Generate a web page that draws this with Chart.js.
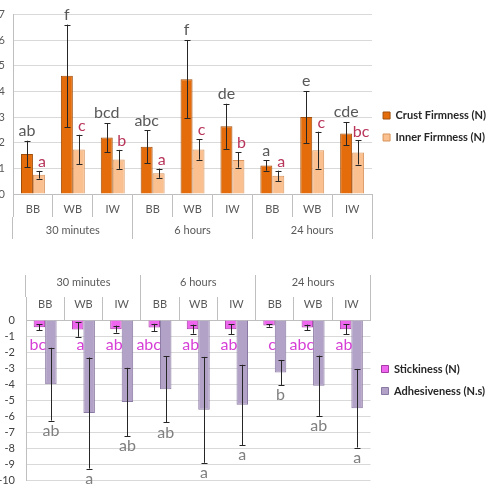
<!DOCTYPE html>
<html>
<head>
<meta charset="utf-8">
<script src="https://cdn.jsdelivr.net/npm/chart.js@4/dist/chart.umd.min.js"></script>
<style>
  html, body { margin: 0; padding: 0; background: #ffffff; overflow: hidden; }
  body { width: 492px; height: 498px; position: relative; }
  #top { position: absolute; left: -20px; top: 0; }
  #bottom { position: absolute; left: 0; top: 250px; }
</style>
</head>
<body>
<canvas id="top" width="512" height="245"></canvas>
<canvas id="bottom" width="492" height="248"></canvas>
<script>
// ---- Data ----
const categories = ['BB', 'WB', 'IW', 'BB', 'WB', 'IW', 'BB', 'WB', 'IW'];
const groups = ['30 minutes', '6 hours', '24 hours'];

const crustFirmness = [1.56, 4.61, 2.20, 1.84, 4.48, 2.64, 1.11, 3.00, 2.36];
const crustErr      = [0.52, 2.00, 0.56, 0.64, 1.53, 0.88, 0.20, 1.02, 0.45];
const crustLetters  = ['ab', 'f', 'bcd', 'abc', 'f', 'de', 'a', 'e', 'cde'];

const innerFirmness = [0.75, 1.74, 1.35, 0.81, 1.74, 1.33, 0.71, 1.71, 1.62];
const innerErr      = [0.15, 0.57, 0.37, 0.18, 0.40, 0.30, 0.20, 0.72, 0.47];
const innerLetters  = ['a', 'c', 'b', 'a', 'c', 'b', 'a', 'c', 'bc'];

const stickiness    = [-0.45, -0.60, -0.57, -0.46, -0.57, -0.57, -0.34, -0.46, -0.57];
const stickErr      = [0.20, 0.45, 0.22, 0.22, 0.28, 0.30, 0.08, 0.17, 0.31];
const stickLetters  = ['bc', 'a', 'ab', 'abc', 'ab', 'ab', 'c', 'abc', 'ab'];

const adhesiveness  = [-4.00, -5.80, -5.11, -4.32, -5.60, -5.29, -3.27, -4.10, -5.50];
const adhesErr      = [2.27, 3.46, 2.13, 2.07, 3.30, 2.50, 0.78, 1.88, 2.45];
const adhesLetters  = ['ab', 'a', 'ab', 'ab', 'a', 'a', 'b', 'ab', 'a'];

const topTicks = [0, 1, 2, 3, 4, 5, 6, 7];
const bottomTicks = [0, -1, -2, -3, -4, -5, -6, -7, -8, -9, -10];

Chart.defaults.font.family = 'Lato, "Open Sans", sans-serif';
Chart.defaults.color = '#595959';
Chart.defaults.animation = false;

const AXIS_LINE = '#bfbfbf';
const GRID = '#d9d9d9';

// error bars and significance letters
const errLetters = {
  id: 'errLetters',
  afterDatasetsDraw(chart) {
    const ctx = chart.ctx;
    const ys = chart.scales.y;
    chart.data.datasets.forEach((ds, i) => {
      const meta = chart.getDatasetMeta(i);
      meta.data.forEach((el, j) => {
        const v = ds.data[j], e = ds.errors[j];
        const yUp = ys.getPixelForValue(v + e);
        const yDn = ys.getPixelForValue(v - e);
        const x = Math.round(el.x) + 0.5;
        ctx.save();
        ctx.strokeStyle = '#262626';
        ctx.lineWidth = 1;
        ctx.beginPath();
        ctx.moveTo(x, yUp); ctx.lineTo(x, yDn);
        ctx.moveTo(x - 3, Math.round(yUp) + 0.5); ctx.lineTo(x + 3, Math.round(yUp) + 0.5);
        ctx.moveTo(x - 3, Math.round(yDn) + 0.5); ctx.lineTo(x + 3, Math.round(yDn) + 0.5);
        ctx.stroke();
        ctx.fillStyle = ds.letterColor;
        ctx.font = '16px Lato, "Open Sans", sans-serif';
        const t = ds.letters[j];
        if (ds.letterMode === 'above') {
          ctx.textAlign = 'center'; ctx.textBaseline = 'bottom';
          ctx.fillText(t, el.x, Math.min(yUp, yDn) - 2);
        } else if (ds.letterMode === 'aboveRight') {
          ctx.textAlign = 'center'; ctx.textBaseline = 'bottom';
          ctx.fillText(t, el.x + 3, Math.min(yUp, yDn) - 1);
        } else if (ds.letterMode === 'left') {
          ctx.textAlign = 'right'; ctx.textBaseline = 'alphabetic';
          ctx.fillText(t, el.x + el.width / 2 + 1, ys.getPixelForValue(-1.85));
        } else if (ds.letterMode === 'below') {
          ctx.textAlign = 'center'; ctx.textBaseline = 'top';
          ctx.fillText(t, el.x, Math.max(yUp, yDn) + 2);
        }
        ctx.restore();
      });
    });
  }
};

function xAxes(position, h1, h2, pad1, pad2) {
  return {
    x: {
      type: 'category', position: position, weight: 0, offset: true,
      labels: categories,
      grid: { display: true, offset: true, drawOnChartArea: false, drawTicks: true, tickLength: h1, color: AXIS_LINE },
      border: { display: true, color: AXIS_LINE },
      ticks: { padding: pad1, color: '#595959', font: { size: 11 }, maxRotation: 0, autoSkip: false },
      afterFit(s) { s.height = h1; }
    },
    x2: {
      type: 'category', position: position, weight: 1, offset: true,
      labels: groups,
      grid: { display: true, offset: true, drawOnChartArea: false, drawTicks: true, tickLength: h2, color: AXIS_LINE },
      border: { display: false },
      ticks: { padding: pad2, color: '#595959', font: { size: 11 }, maxRotation: 0, autoSkip: false },
      afterFit(s) { s.height = h2; }
    }
  };
}

const legendOpts = (size) => ({
  display: true, position: 'right', align: 'center',
  labels: { boxWidth: 7, boxHeight: 7, padding: 11, color: '#262626', font: { size: size, weight: 'bold' } }
});

// ---- Top chart ----
const topScales = xAxes('bottom', 23, 22, -14, -15);
topScales.y = {
  min: 0, max: 7,
  afterBuildTicks(s) { s.ticks = topTicks.map(v => ({ value: v })); },
  grid: { color: GRID, drawTicks: false },
  border: { display: true, color: AXIS_LINE },
  ticks: { padding: 8, color: '#595959', font: { size: 11 }, autoSkip: false },
  afterFit(s) { s.width = 33; }
};
new Chart(document.getElementById('top'), {
  type: 'bar',
  data: {
    labels: categories,
    datasets: [
      { label: 'Crust Firmness (N)', data: crustFirmness, errors: crustErr, letters: crustLetters,
        letterColor: '#595959', letterMode: 'above',
        backgroundColor: '#E46C0A', borderColor: '#A04E0C', borderWidth: 1,
        categoryPercentage: 0.6, barPercentage: 1.0 },
      { label: 'Inner Firmness (N)', data: innerFirmness, errors: innerErr, letters: innerLetters,
        letterColor: '#B8355A', letterMode: 'aboveRight',
        backgroundColor: '#FAC090', borderColor: '#D9935A', borderWidth: 1,
        categoryPercentage: 0.6, barPercentage: 1.0 }
    ]
  },
  options: {
    responsive: false, devicePixelRatio: 1,
    layout: { padding: { top: 14, bottom: 6, left: 0, right: -4 } },
    scales: topScales,
    plugins: { legend: legendOpts(11), tooltip: { enabled: false } }
  },
  plugins: [errLetters]
});

// ---- Bottom chart ----
const botScales = xAxes('top', 23, 22, -14, -14);
botScales.y = {
  min: -10, max: 0,
  afterBuildTicks(s) { s.ticks = bottomTicks.map(v => ({ value: v })); },
  grid: { color: GRID, drawTicks: false },
  border: { display: true, color: AXIS_LINE },
  ticks: { padding: 11, color: '#404040', font: { size: 11 }, autoSkip: false },
  afterFit(s) { s.width = 26; }
};
new Chart(document.getElementById('bottom'), {
  type: 'bar',
  data: {
    labels: categories,
    datasets: [
      { label: 'Stickiness (N)', data: stickiness, errors: stickErr, letters: stickLetters,
        letterColor: '#D63FD6', letterMode: 'left',
        backgroundColor: '#EE66EE', borderColor: '#A63AA6', borderWidth: 1,
        categoryPercentage: 0.6, barPercentage: 1.0 },
      { label: 'Adhesiveness (N.s)', data: adhesiveness, errors: adhesErr, letters: adhesLetters,
        letterColor: '#7F7F7F', letterMode: 'below',
        backgroundColor: '#B3A2C7', borderColor: '#8A7AA3', borderWidth: 1,
        categoryPercentage: 0.6, barPercentage: 1.0 }
    ]
  },
  options: {
    responsive: false, devicePixelRatio: 1,
    layout: { padding: { top: 25, bottom: 13, left: 0, right: -2 } },
    scales: botScales,
    plugins: { legend: legendOpts(11), tooltip: { enabled: false } }
  },
  plugins: [errLetters]
});
</script>
</body>
</html>
